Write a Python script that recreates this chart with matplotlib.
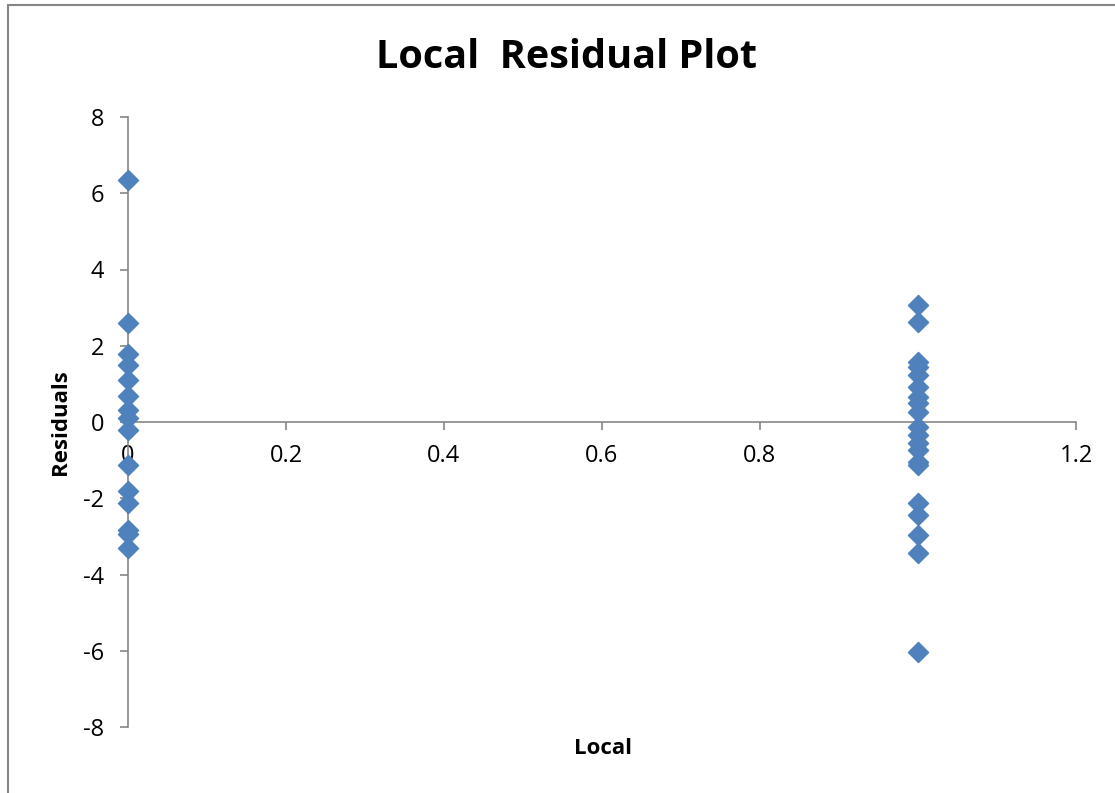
import numpy as np
import matplotlib.pyplot as plt
from matplotlib.patches import Rectangle

# residuals
local_0 = [6.35, 2.6, 1.78, 1.5, 1.1, 0.68, 0.32, 0.1, -0.2, -1.12,
           -1.82, -2.13, -2.82, -2.95, -3.3]
local_1 = [3.07, 2.62, 1.57, 1.45, 1.23, 0.92, 0.66, 0.5, 0.27, -0.13,
           -0.34, -0.55, -0.73, -1.05, -1.13, -2.13, -2.44, -2.96, -3.44, -6.03]

x = [0] * len(local_0) + [1] * len(local_1)
y = local_0 + local_1

xticks = [0, 0.2, 0.4, 0.6, 0.8, 1, 1.2]
xticklabels = ["0", "0.2", "0.4", "0.6", "0.8", "1", "1.2"]
yticks = [-8, -6, -4, -2, 0, 2, 4, 6, 8]

plt.rcParams['font.family'] = ['Open Sans', 'DejaVu Sans']
plt.rcParams['axes.unicode_minus'] = False

fig = plt.figure(figsize=(11.15, 7.93), dpi=100)
ax = fig.add_axes([128 / 1115, 1 - 727 / 793, (1076 - 128) / 1115, 610 / 793])

ax.scatter(x, y, marker='D', s=105, color='#4F81BD', zorder=3, clip_on=False)

ax.set_xlim(0, 1.2)
ax.set_ylim(-8, 8)
ax.set_xticks(xticks)
ax.set_xticklabels(xticklabels)
ax.set_yticks(yticks)

ax.spines['top'].set_visible(False)
ax.spines['right'].set_visible(False)
ax.spines['bottom'].set_position(('data', 0))
for s in ['left', 'bottom']:
    ax.spines[s].set_color('#868686')
    ax.spines[s].set_linewidth(1.2)

ax.tick_params(axis='both', colors='#868686', labelcolor='black', labelsize=17,
               length=6, width=1.2)
ax.tick_params(axis='x', pad=10)
ax.tick_params(axis='y', pad=11)

fig.text(566 / 1115, 1 - 57 / 793, "Local  Residual Plot", fontsize=28.5,
         fontweight='bold', ha='center', va='center')
fig.text(60 / 1115, 1 - 422 / 793, "Residuals", rotation=90, fontsize=16,
         fontweight='bold', ha='center', va='center')
fig.text(603 / 1115, 1 - 748 / 793, "Local", fontsize=16, fontweight='bold',
         ha='center', va='center')

fig.patches.append(Rectangle((8 / 1115, -0.01), 1.2, 1 - 5 / 793 + 0.01,
                             transform=fig.transFigure, fill=False,
                             edgecolor='#868686', linewidth=1.5))

fig.savefig("out.png", dpi=100)
